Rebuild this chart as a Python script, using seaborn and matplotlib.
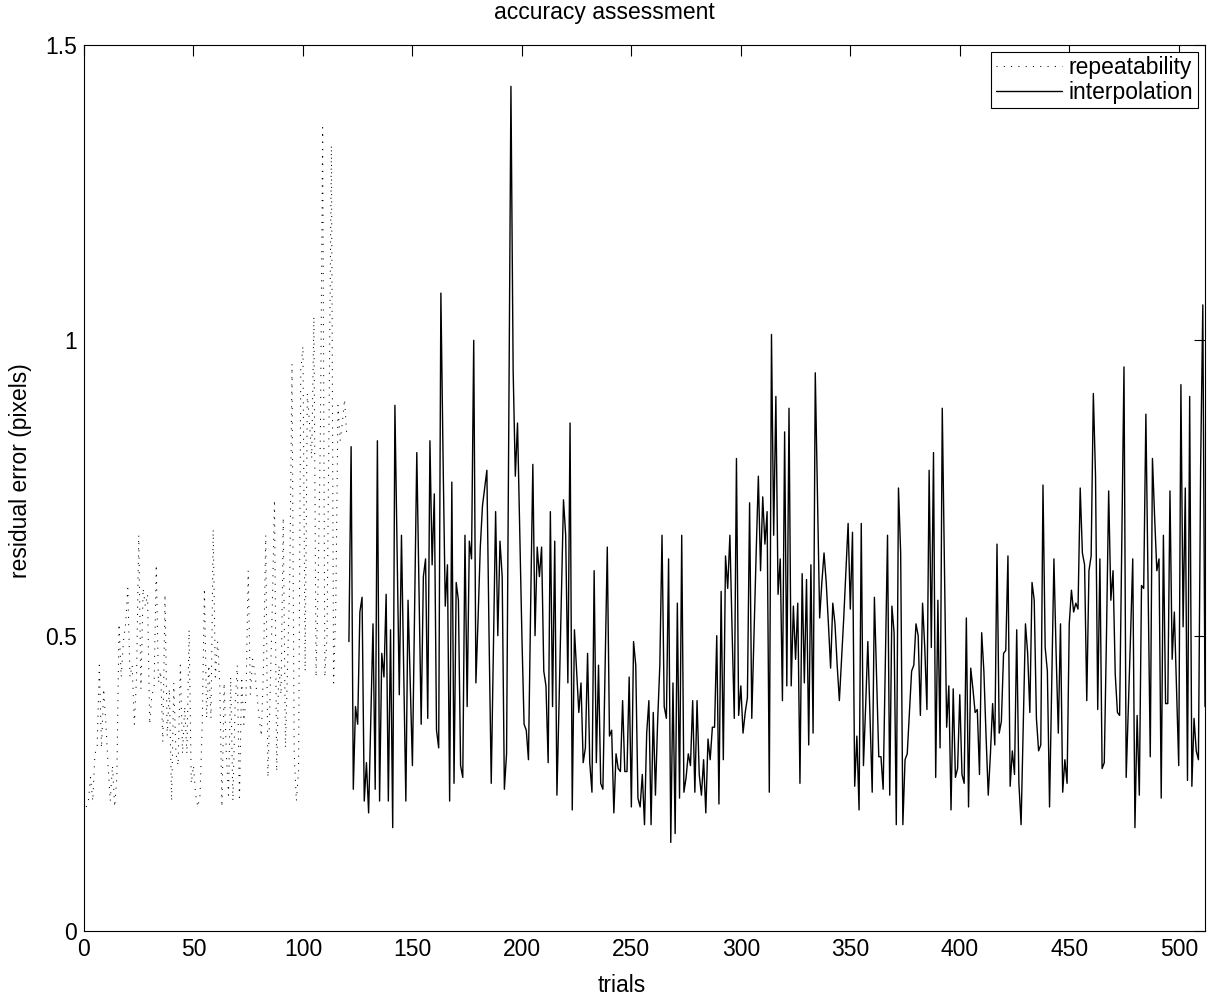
import numpy as np
import pandas as pd
import seaborn as sns
import matplotlib
matplotlib.use('Agg')
import matplotlib.pyplot as plt

# repeatability residuals, trials 1..120 (dotted)
repeatability = [0.21,0.22,0.26,0.22,0.30,0.31,0.45,0.31,0.41,0.35,
                 0.28,0.22,0.28,0.21,0.26,0.52,0.43,0.49,0.52,0.58,
                 0.43,0.45,0.35,0.43,0.67,0.41,0.58,0.55,0.57,0.35,
                 0.40,0.41,0.62,0.42,0.44,0.32,0.57,0.33,0.41,0.22,
                 0.42,0.30,0.28,0.45,0.30,0.38,0.30,0.51,0.25,0.28,
                 0.23,0.21,0.23,0.35,0.58,0.36,0.45,0.36,0.68,0.43,
                 0.49,0.42,0.21,0.42,0.30,0.23,0.43,0.22,0.38,0.45,
                 0.22,0.43,0.35,0.40,0.61,0.40,0.46,0.44,0.40,0.36,
                 0.33,0.45,0.67,0.26,0.40,0.55,0.73,0.27,0.45,0.40,
                 0.70,0.31,0.45,0.60,0.96,0.30,0.22,0.27,0.95,0.99,
                 0.44,0.91,0.86,0.80,1.04,0.43,0.60,0.85,1.36,0.43,
                 0.50,0.90,1.33,0.42,0.55,0.89,0.83,0.86,0.90,0.84]

# interpolation residuals, trials 121..512 (solid)
interpolation = [0.49,0.82,0.24,0.38,0.35,0.54,0.565,0.22,0.285,0.20,
                 0.36,0.52,0.24,0.83,0.22,0.47,0.43,0.57,0.22,0.51,
                 0.175,0.89,0.65,0.40,0.67,0.45,0.22,0.56,0.42,0.28,
                 0.55,0.81,0.58,0.35,0.60,0.63,0.36,0.83,0.62,0.74,
                 0.34,0.31,1.08,0.80,0.55,0.62,0.22,0.76,0.25,0.59,
                 0.56,0.28,0.26,0.67,0.38,0.66,0.63,1.00,0.42,0.53,
                 0.65,0.72,0.75,0.78,0.50,0.25,0.48,0.71,0.50,0.66,
                 0.60,0.24,0.30,0.85,1.43,0.95,0.77,0.86,0.68,0.50,
                 0.35,0.34,0.29,0.55,0.79,0.50,0.65,0.60,0.65,0.44,
                 0.415,0.285,0.71,0.38,0.66,0.23,0.39,0.56,0.73,0.67,
                 0.42,0.86,0.205,0.51,0.44,0.37,0.42,0.285,0.31,0.47,
                 0.285,0.235,0.61,0.285,0.45,0.25,0.24,0.45,0.65,0.33,
                 0.34,0.20,0.30,0.275,0.27,0.39,0.27,0.27,0.43,0.21,
                 0.49,0.45,0.225,0.21,0.265,0.18,0.335,0.39,0.18,0.37,
                 0.23,0.355,0.45,0.67,0.38,0.36,0.63,0.15,0.42,0.165,
                 0.555,0.225,0.67,0.235,0.26,0.30,0.28,0.39,0.235,0.39,
                 0.265,0.23,0.29,0.20,0.325,0.29,0.345,0.345,0.50,0.215,
                 0.575,0.29,0.635,0.58,0.67,0.51,0.36,0.80,0.365,0.415,
                 0.335,0.37,0.395,0.725,0.36,0.50,0.64,0.77,0.61,0.735,
                 0.655,0.71,0.235,1.01,0.67,0.905,0.57,0.63,0.39,0.845,
                 0.415,0.885,0.415,0.55,0.46,0.555,0.25,0.605,0.42,0.595,
                 0.315,0.62,0.335,0.945,0.74,0.53,0.59,0.64,0.59,0.52,
                 0.445,0.555,0.52,0.45,0.39,0.46,0.53,0.61,0.69,0.545,
                 0.675,0.245,0.33,0.205,0.69,0.28,0.38,0.49,0.36,0.235,
                 0.565,0.43,0.295,0.295,0.24,0.45,0.67,0.23,0.55,0.505,
                 0.18,0.75,0.64,0.18,0.29,0.30,0.37,0.44,0.45,0.52,
                 0.50,0.365,0.555,0.48,0.375,0.78,0.48,0.81,0.26,0.56,
                 0.31,0.885,0.62,0.345,0.415,0.205,0.41,0.26,0.275,0.40,
                 0.265,0.25,0.53,0.21,0.445,0.41,0.37,0.375,0.265,0.505,
                 0.44,0.33,0.23,0.30,0.385,0.315,0.655,0.335,0.355,0.47,
                 0.475,0.635,0.245,0.305,0.265,0.51,0.25,0.18,0.35,0.52,
                 0.47,0.37,0.59,0.56,0.36,0.305,0.315,0.755,0.48,0.44,
                 0.21,0.42,0.63,0.47,0.335,0.52,0.235,0.29,0.25,0.52,
                 0.577,0.54,0.555,0.545,0.75,0.64,0.62,0.39,0.61,0.635,
                 0.91,0.77,0.375,0.63,0.275,0.285,0.50,0.745,0.56,0.61,
                 0.435,0.37,0.365,0.66,0.955,0.26,0.38,0.50,0.63,0.175,
                 0.365,0.23,0.585,0.58,0.875,0.58,0.295,0.80,0.70,0.61,
                 0.63,0.225,0.67,0.385,0.385,0.745,0.46,0.54,0.41,0.28,
                 0.925,0.515,0.75,0.255,0.905,0.245,0.36,0.305,0.29,0.785,
                 1.06,0.38]

x_ticks = [0, 50, 100, 150, 200, 250, 300, 350, 400, 450, 500]
y_ticks = [0, 0.5, 1, 1.5]
y_ticklabels = ['0', '0.5', '1', '1.5']

rep = pd.DataFrame({'trial': np.arange(1, len(repeatability) + 1),
                    'err': repeatability})
start = len(repeatability) + 1
itp = pd.DataFrame({'trial': np.arange(start, start + len(interpolation)),
                    'err': interpolation})

sns.set_style('white')
plt.rcParams['font.family'] = ['Liberation Sans', 'DejaVu Sans']
plt.rcParams['text.color'] = 'black'
plt.rcParams['axes.labelcolor'] = 'black'
fs = 16.5

fig = plt.figure(figsize=(12.07, 10.02), dpi=100)
ax = fig.add_axes([84/1207, 1 - 931/1002, (1205-84)/1207, (931-45)/1002])

sns.lineplot(data=rep, x='trial', y='err', ax=ax, color='black',
             linewidth=0.75, linestyle=(0, (1, 6)), estimator=None,
             label='repeatability')
sns.lineplot(data=itp, x='trial', y='err', ax=ax, color='black',
             linewidth=1.0, estimator=None, label='interpolation')

ax.set_xlim(0, itp['trial'].iloc[-1])
ax.set_ylim(0, 1.5)
ax.set_xticks(x_ticks)
ax.set_yticks(y_ticks)
ax.set_yticklabels(y_ticklabels)
ax.tick_params(direction='in', length=8, width=0.8, labelsize=fs,
               top=True, right=True, colors='black', pad=5)
for s in ax.spines.values():
    s.set_color('black')
    s.set_linewidth(0.8)

ax.set_xlabel('trials', fontsize=fs, color='black')
ax.xaxis.set_label_coords(0.48, -0.048)
ax.set_ylabel('residual error (pixels)', fontsize=fs, color='black')
ax.yaxis.set_label_coords(-0.046, 0.52)
ax.set_title('accuracy assessment', fontsize=fs, x=0.464, pad=19,
             color='black')

leg = ax.legend(loc='upper right', fontsize=fs, frameon=True, fancybox=False,
                framealpha=1, edgecolor='black', borderaxespad=0.3,
                handlelength=2.9, handletextpad=0.3, borderpad=0.2,
                labelspacing=0.05)
leg.get_frame().set_linewidth(0.8)
for t in leg.get_texts():
    t.set_color('black')

fig.savefig('out.png', dpi=100)
